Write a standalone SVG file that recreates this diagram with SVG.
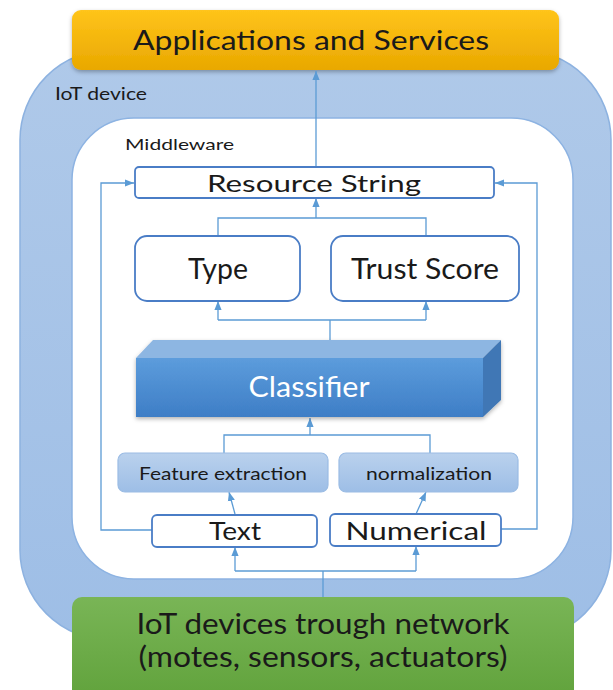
<svg xmlns="http://www.w3.org/2000/svg" width="613" height="690" viewBox="0 0 613 690">
<defs>
<linearGradient id="gOuter" x1="0" y1="0" x2="0" y2="1"><stop offset="0" stop-color="#AFC9E9"/><stop offset="1" stop-color="#9EBEE6"/></linearGradient>
<linearGradient id="gApps" x1="0" y1="0" x2="0" y2="1"><stop offset="0" stop-color="#FFC41A"/><stop offset="1" stop-color="#E9A800"/></linearGradient>
<linearGradient id="gGreen" x1="0" y1="0" x2="0" y2="1"><stop offset="0" stop-color="#79B556"/><stop offset="1" stop-color="#5FA13A"/></linearGradient>
<linearGradient id="gFront" x1="0" y1="0" x2="0" y2="1"><stop offset="0" stop-color="#5C9CDC"/><stop offset="1" stop-color="#3E7EC6"/></linearGradient>
<linearGradient id="gFeat" x1="0" y1="0" x2="0" y2="1"><stop offset="0" stop-color="#BAD1ED"/><stop offset="1" stop-color="#9DBEE6"/></linearGradient>
<filter id="sh" x="-10%" y="-20%" width="120%" height="150%"><feDropShadow dx="0" dy="2" stdDeviation="2" flood-color="#000" flood-opacity="0.3"/></filter>
<marker id="ah" markerUnits="userSpaceOnUse" markerWidth="9" markerHeight="9" viewBox="0 0 10 10" refX="10" refY="5" orient="auto">
<path d="M0,1 L10,5 L0,9 Z" fill="#5B9BD5"/>
</marker>
<style>
.t{font-family:Lato,"Open Sans","Liberation Sans",sans-serif;fill:#1a1a1a;}
.box{fill:#fff;stroke:#4A7DC6;stroke-width:1.8;}
.feat{fill:url(#gFeat);stroke:#9BBCE4;stroke-width:1.2;}
.c{fill:none;stroke:#5B9BD5;stroke-width:1.3;}
</style>
</defs>

<g id="iot-device">
<rect x="20" y="50" width="591" height="590" rx="90" fill="url(#gOuter)" stroke="#8DB2E0" stroke-width="1.5"/>
<text class="t" x="55" y="100" font-size="17" textLength="92" lengthAdjust="spacingAndGlyphs" fill="#2a2a2a">IoT device</text>
</g>

<g id="middleware">
<rect x="72" y="118" width="501" height="461" rx="62" fill="#fff" stroke="#8DB3E2" stroke-width="1.5"/>
<text class="t" x="125" y="150" font-size="16" textLength="109" lengthAdjust="spacingAndGlyphs">Middleware</text>
</g>

<g id="applications">
<rect x="72" y="10" width="487" height="60" rx="9" fill="url(#gApps)" filter="url(#sh)"/>
<text class="t" x="311" y="50" font-size="27" text-anchor="middle" textLength="356" lengthAdjust="spacingAndGlyphs">Applications and Services</text>
</g>

<g id="network">
<rect x="72" y="597" width="502" height="110" rx="10" fill="url(#gGreen)"/>
<text class="t" x="323" y="634" font-size="28" text-anchor="middle" textLength="373" lengthAdjust="spacingAndGlyphs">IoT devices trough network</text>
<text class="t" x="323" y="667" font-size="28" text-anchor="middle" textLength="369" lengthAdjust="spacingAndGlyphs">(motes, sensors, actuators)</text>
</g>

<g id="connectors">
<path class="c" d="M316,167 V71" marker-end="url(#ah)"/>
<path class="c" d="M152,530 H101 V183 H134" marker-end="url(#ah)"/>
<path class="c" d="M501,529 H537 V183 H495" marker-end="url(#ah)"/>
<path class="c" d="M218,236 V218 H426 V236"/>
<path class="c" d="M316,218 V198" marker-end="url(#ah)"/>
<path class="c" d="M330,340 V320"/>
<path class="c" d="M218,320 H426"/>
<path class="c" d="M218,320 V301" marker-end="url(#ah)"/>
<path class="c" d="M426,320 V301" marker-end="url(#ah)"/>
<path class="c" d="M224,453 V435 H430 V453"/>
<path class="c" d="M310,435 V418" marker-end="url(#ah)"/>
<path class="c" d="M235,514 L229,492" marker-end="url(#ah)"/>
<path class="c" d="M416,514 L426,492" marker-end="url(#ah)"/>
<path class="c" d="M323,597 V571"/>
<path class="c" d="M235,571 H416"/>
<path class="c" d="M235,571 V547" marker-end="url(#ah)"/>
<path class="c" d="M416,571 V546" marker-end="url(#ah)"/>
</g>

<g id="resource-string">
<rect class="box" x="135" y="167" width="359" height="31" rx="4"/>
<text class="t" x="314" y="192" font-size="24" text-anchor="middle" textLength="214" lengthAdjust="spacingAndGlyphs">Resource String</text>
</g>

<g id="type">
<rect class="box" x="135" y="236" width="165" height="65" rx="12"/>
<text class="t" x="218" y="279" font-size="28" text-anchor="middle" textLength="60" lengthAdjust="spacingAndGlyphs">Type</text>
</g>

<g id="trust-score">
<rect class="box" x="331" y="236" width="188" height="65" rx="12"/>
<text class="t" x="425" y="279" font-size="28" text-anchor="middle" textLength="148" lengthAdjust="spacingAndGlyphs">Trust Score</text>
</g>

<g id="classifier">
<g filter="url(#sh)">
<polygon points="136,358 153,340 501,340 483,358" fill="#8DB6E2"/>
<rect x="136" y="358" width="347" height="59" fill="url(#gFront)"/>
<polygon points="483,358 501,340 501,400 483,417" fill="#3F77B5"/>
</g>
<text class="t" x="309" y="397" font-size="28" text-anchor="middle" textLength="121" lengthAdjust="spacingAndGlyphs" style="fill:#fff">Classifier</text>
</g>

<g id="feature-extraction">
<rect class="feat" x="118" y="453" width="210" height="39" rx="7"/>
<text class="t" x="223" y="480" font-size="17" text-anchor="middle" textLength="168" lengthAdjust="spacingAndGlyphs">Feature extraction</text>
</g>

<g id="normalization">
<rect class="feat" x="339" y="453" width="179" height="39" rx="7"/>
<text class="t" x="429" y="480" font-size="17" text-anchor="middle" textLength="126" lengthAdjust="spacingAndGlyphs">normalization</text>
</g>

<g id="text">
<rect class="box" x="152" y="515" width="165" height="32" rx="5"/>
<text class="t" x="235" y="540" font-size="25" text-anchor="middle" textLength="52" lengthAdjust="spacingAndGlyphs">Text</text>
</g>

<g id="numerical">
<rect class="box" x="330" y="514" width="171" height="32" rx="5"/>
<text class="t" x="416" y="540" font-size="25" text-anchor="middle" textLength="141" lengthAdjust="spacingAndGlyphs">Numerical</text>
</g>
</svg>
